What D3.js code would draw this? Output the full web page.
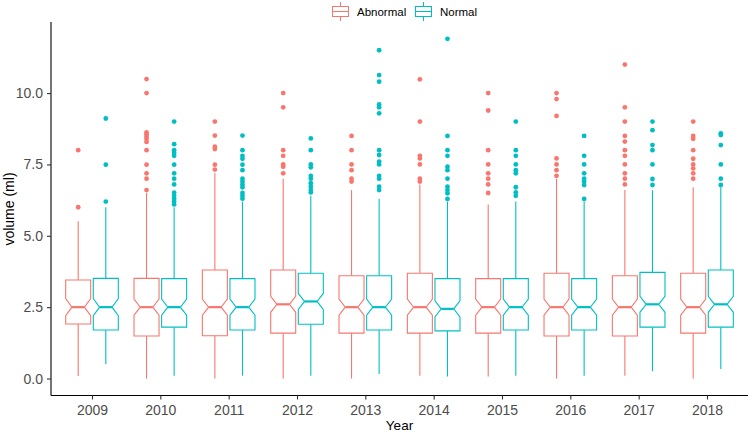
<!DOCTYPE html>
<html>
<head>
<meta charset="utf-8">
<script src="https://cdn.jsdelivr.net/npm/d3@7"></script>
<style>
  body { margin: 0; background: #fff; }
  svg { display: block; font-family: "Liberation Sans", Arial, sans-serif; }
</style>
</head>
<body>
<svg id="chart" width="749" height="433"></svg>
<script>
// years on the x axis, two groups dodged per year
var years = ['2009', '2010', '2011', '2012', '2013', '2014', '2015', '2016', '2017', '2018'];
var groups = ['Abnormal', 'Normal'];
var groupColors = ['#F8766D', '#00BFC4'];
var yTicks = [0, 2.5, 5, 7.5, 10];

// Abnormal box stats
var abnLow = [0.09, 0.0, 0.0, 0.0, 0.0, 0.1, 0.07, 0.0, 0.1, 0.0];
var abnQ1 = [1.91, 1.49, 1.5, 1.59, 1.59, 1.59, 1.59, 1.49, 1.49, 1.59];
var abnMed = [2.5, 2.5, 2.5, 2.6, 2.5, 2.5, 2.5, 2.5, 2.5, 2.5];
var abnQ3 = [3.45, 3.51, 3.8, 3.8, 3.6, 3.69, 3.5, 3.69, 3.6, 3.69];
var abnHigh = [5.51, 6.5, 7.2, 7.0, 6.6, 6.8, 6.1, 7.0, 6.6, 6.7];
var abnNotch = [0.3, 0.28, 0.28, 0.28, 0.28, 0.28, 0.28, 0.28, 0.28, 0.28];
var abnOut = [
  [8.0, 6.0],
  [10.49, 10.0, 8.62, 8.55, 8.47, 8.39, 8.29, 8.0, 7.49, 7.19, 7.0, 6.6],
  [9.0, 8.51, 8.12, 8.04, 7.49, 7.32],
  [10.0, 9.5, 8.0, 7.8, 7.5, 7.42, 7.19],
  [8.5, 8.0, 7.5, 7.3, 7.0, 6.9],
  [10.48, 9.0, 7.8, 7.71, 7.5, 7.0, 6.9],
  [10.0, 9.39, 8.0, 7.5, 7.19, 7.0, 6.8, 6.5],
  [10.0, 9.79, 9.2, 7.71, 7.5, 7.3, 7.1],
  [11.0, 9.5, 9.0, 8.5, 8.3, 8.0, 7.8, 7.5, 7.19, 7.0, 6.8],
  [9.0, 8.5, 8.4, 8.0, 7.7, 7.5, 7.36, 7.19, 7.0]
];

// Normal box stats
var norLow = [0.5, 0.1, 0.1, 0.1, 0.16, 0.07, 0.1, 0.1, 0.25, 0.33];
var norQ1 = [1.7, 1.8, 1.7, 1.9, 1.7, 1.67, 1.7, 1.7, 1.8, 1.8];
var norMed = [2.5, 2.5, 2.5, 2.7, 2.5, 2.44, 2.5, 2.5, 2.6, 2.6];
var norQ3 = [3.51, 3.5, 3.5, 3.69, 3.6, 3.5, 3.5, 3.5, 3.72, 3.8];
var norHigh = [6.0, 6.0, 6.2, 6.4, 6.3, 6.2, 6.2, 6.2, 6.6, 6.7];
var norNotch = [0.3, 0.28, 0.28, 0.28, 0.28, 0.28, 0.28, 0.28, 0.28, 0.28];
var norOut = [
  [9.11, 7.49, 6.2],
  [9.0, 8.21, 8.0, 7.9, 7.8, 7.49, 7.19, 7.0, 6.8, 6.51, 6.4, 6.3, 6.2, 6.1],
  [8.51, 8.0, 7.8, 7.7, 7.49, 7.3, 7.0, 6.9, 6.8, 6.7, 6.5, 6.4, 6.3],
  [8.41, 8.0, 7.5, 7.4, 7.1, 7.0, 6.84, 6.72, 6.6, 6.52],
  [11.5, 10.63, 10.4, 9.6, 9.5, 9.29, 8.0, 7.83, 7.6, 7.5, 7.1, 7.0, 6.72, 6.6],
  [11.9, 8.5, 8.0, 7.8, 7.42, 7.3, 7.0, 6.72, 6.6, 6.49, 6.29],
  [9.0, 8.0, 7.8, 7.5, 7.3, 7.19, 6.7, 6.52, 6.4],
  [8.5, 7.8, 7.5, 7.19, 7.0, 6.9, 6.78, 6.29],
  [9.0, 8.7, 8.18, 8.0, 7.5, 6.99, 6.78],
  [8.59, 8.53, 8.18, 7.5, 7.0, 6.78]
];

(function() {
  var stats = [
    { low: abnLow, q1: abnQ1, med: abnMed, q3: abnQ3, high: abnHigh, notch: abnNotch, out: abnOut },
    { low: norLow, q1: norQ1, med: norMed, q3: norQ3, high: norHigh, notch: norNotch, out: norOut }
  ];

  var svg = d3.select('#chart');
  var left = 51, right = 748, plotTop = 22, plotBottom = 395.5;

  var x = d3.scalePoint().domain(years).range([left, right]).padding(0.6);
  var y = d3.scaleLinear().domain([-0.595, 12.49]).range([plotBottom, plotTop]);

  var step = x.step();
  var dodge = step * 0.202;
  var boxW = step * 0.366;

  // flatten into one record per box
  var boxes = [];
  groups.forEach(function(g, gi) {
    years.forEach(function(yr, i) {
      var s = stats[gi];
      boxes.push({
        group: g, gi: gi, year: yr,
        low: s.low[i], q1: s.q1[i], med: s.med[i], q3: s.q3[i], high: s.high[i],
        notch: s.notch[i], out: s.out[i]
      });
    });
  });

  var cx = function(d) { return x(d.year) + (d.gi === 0 ? -dodge : dodge); };
  var col = function(d) { return groupColors[d.gi]; };

  var g = svg.append('g');

  // whiskers
  g.selectAll('line.whisk-hi').data(boxes).enter().append('line')
    .attr('class', 'whisk-hi')
    .attr('x1', cx).attr('x2', cx)
    .attr('y1', function(d) { return y(d.q3); })
    .attr('y2', function(d) { return y(d.high); })
    .attr('stroke', col)
    .attr('stroke-width', 1.1);
  g.selectAll('line.whisk-lo').data(boxes).enter().append('line')
    .attr('class', 'whisk-lo')
    .attr('x1', cx).attr('x2', cx)
    .attr('y1', function(d) { return y(d.q1); })
    .attr('y2', function(d) { return y(d.low); })
    .attr('stroke', col)
    .attr('stroke-width', 1.1);

  // notched box outline
  g.selectAll('path.box').data(boxes).enter().append('path')
    .attr('class', 'box')
    .attr('d', function(d) {
      var c = cx(d), h = boxW / 2, n = boxW / 4;
      var p = [
        [c - h, y(d.q3)], [c + h, y(d.q3)],
        [c + h, y(d.med + d.notch)], [c + h - n, y(d.med)], [c + h, y(d.med - d.notch)],
        [c + h, y(d.q1)], [c - h, y(d.q1)],
        [c - h, y(d.med - d.notch)], [c - h + n, y(d.med)], [c - h, y(d.med + d.notch)]
      ];
      return d3.line()(p) + 'Z';
    })
    .attr('fill', '#fff')
    .attr('stroke', col)
    .attr('stroke-width', 1.1);

  // median
  g.selectAll('line.med').data(boxes).enter().append('line')
    .attr('class', 'med')
    .attr('x1', function(d) { return cx(d) - boxW / 4; })
    .attr('x2', function(d) { return cx(d) + boxW / 4; })
    .attr('y1', function(d) { return y(d.med); })
    .attr('y2', function(d) { return y(d.med); })
    .attr('stroke', col)
    .attr('stroke-width', 2.2);

  // outliers
  var pts = [];
  boxes.forEach(function(b) {
    b.out.forEach(function(v) { pts.push({ b: b, v: v }); });
  });
  g.selectAll('circle.out').data(pts).enter().append('circle')
    .attr('class', 'out')
    .attr('cx', function(d) { return cx(d.b); })
    .attr('cy', function(d) { return y(d.v); })
    .attr('r', 2.4)
    .attr('fill', function(d) { return groupColors[d.b.gi]; });

  // axes
  var xAxis = svg.append('g')
    .attr('transform', 'translate(0,' + plotBottom + ')')
    .call(d3.axisBottom(x).tickSize(4).tickPadding(5.5).tickSizeOuter(0));
  var yAxis = svg.append('g')
    .attr('transform', 'translate(' + left + ',0)')
    .call(d3.axisLeft(y).tickValues(yTicks).tickFormat(d3.format('.1f')).tickSize(4).tickPadding(4).tickSizeOuter(0));
  [xAxis, yAxis].forEach(function(a) {
    a.select('.domain').attr('stroke', '#000').attr('stroke-width', 1.1);
    a.selectAll('.tick line').attr('stroke', '#333').attr('stroke-width', 1.1);
    a.selectAll('.tick text').attr('fill', '#4d4d4d').style('font-size', '14px')
      .style('font-family', '"Liberation Sans", Arial, sans-serif');
  });
  // run the domain lines over the whole panel
  yAxis.select('.domain').attr('d', 'M0,' + plotTop + 'V' + plotBottom);
  xAxis.select('.domain').attr('d', 'M' + left + ',0H' + right);

  svg.append('text')
    .attr('x', 399.5).attr('y', 429.5)
    .attr('text-anchor', 'middle')
    .style('font-size', '13.5px')
    .text('Year');
  svg.append('text')
    .attr('transform', 'translate(13.5,209) rotate(-90)')
    .attr('text-anchor', 'middle')
    .style('font-size', '14px')
    .text('volume (ml)');

  // legend
  var legendX = [332, 415];
  var leg = svg.selectAll('g.leg').data(groups).enter().append('g')
    .attr('class', 'leg')
    .attr('transform', function(d, i) { return 'translate(' + legendX[i] + ',0)'; });
  leg.append('line')
    .attr('x1', 8.5).attr('x2', 8.5).attr('y1', 2).attr('y2', 21)
    .attr('stroke', function(d, i) { return groupColors[i]; })
    .attr('stroke-width', 1);
  leg.append('rect')
    .attr('x', 0.5).attr('y', 6.5).attr('width', 16).attr('height', 10)
    .attr('fill', '#fff')
    .attr('stroke', function(d, i) { return groupColors[i]; })
    .attr('stroke-width', 1);
  leg.append('line')
    .attr('x1', 0.5).attr('x2', 16.5).attr('y1', 11.5).attr('y2', 11.5)
    .attr('stroke', function(d, i) { return groupColors[i]; })
    .attr('stroke-width', 1);
  leg.append('text')
    .attr('x', 25).attr('y', 15.5)
    .style('font-size', '11.5px')
    .attr('fill', '#000')
    .text(function(d) { return d; });
})();
</script>
</body>
</html>
